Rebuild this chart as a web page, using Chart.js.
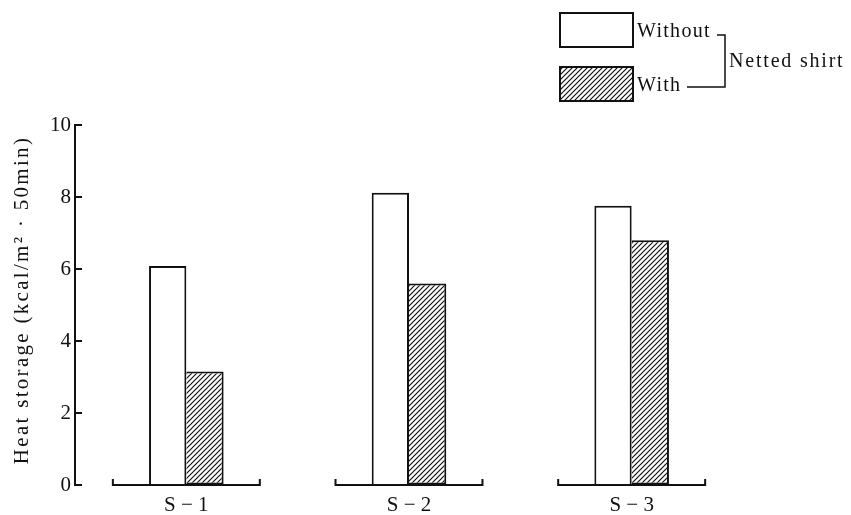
<!DOCTYPE html>
<html>
<head>
<meta charset="utf-8">
<script src="https://cdn.jsdelivr.net/npm/chart.js@4.4.0/dist/chart.umd.min.js"></script>
<style>
  html, body { margin: 0; padding: 0; background: #fff; }
  #wrap { width: 851px; height: 515px; position: relative; }
</style>
</head>
<body>
<div id="wrap"><canvas id="heatChart"></canvas></div>
<script>
const categories = ['S − 1', 'S − 2', 'S − 3'];
const withoutShirt = [6.08, 8.12, 7.76];
const withShirt = [3.15, 5.6, 6.8];
const yTickValues = [0, 2, 4, 6, 8, 10];
const yTitle = 'Heat storage (kcal/m² · 50min)';
const legendLabels = ['Without', 'With'];
const legendGroup = 'Netted shirt';

const ink = '#111';
const serif = "'Liberation Serif', 'DejaVu Serif', serif";

// diagonal hatch "////"
function hatch() {
  const c = document.createElement('canvas');
  c.width = 5; c.height = 5;
  const g = c.getContext('2d');
  g.fillStyle = '#fff';
  g.fillRect(0, 0, 5, 5);
  g.strokeStyle = ink;
  g.lineWidth = 1.2;
  g.beginPath();
  g.moveTo(-1, 6); g.lineTo(6, -1);
  g.moveTo(-1, 1); g.lineTo(1, -1);
  g.moveTo(4, 6); g.lineTo(6, 4);
  g.stroke();
  return g.createPattern(c, 'repeat');
}
const hatchFill = hatch();

// inward y ticks, per-group base lines, y title, legend with bracket
const decor = {
  id: 'decor',
  afterDatasetsDraw(chart) {
    const { ctx, scales: { x, y } } = chart;
    ctx.save();
    ctx.strokeStyle = ink;
    ctx.lineWidth = 2;

    yTickValues.forEach(v => {
      const py = y.getPixelForValue(v);
      ctx.beginPath();
      ctx.moveTo(x.left, py);
      ctx.lineTo(x.left + 7, py);
      ctx.stroke();
    });

    const half = x.width / categories.length * 0.33;
    const base = y.getPixelForValue(0);
    categories.forEach((c, i) => {
      const cx = x.getPixelForValue(i);
      ctx.beginPath();
      ctx.moveTo(cx - half, base - 6);
      ctx.lineTo(cx - half, base);
      ctx.lineTo(cx + half, base);
      ctx.lineTo(cx + half, base - 6);
      ctx.stroke();
    });

    // y title
    ctx.fillStyle = ink;
    ctx.font = '21px ' + serif;
    ctx.textAlign = 'center';
    ctx.textBaseline = 'middle';
    ctx.translate(22, (y.top + y.bottom) / 2 - 5);
    ctx.rotate(-Math.PI / 2);
    ctx.letterSpacing = '2.3px';
    ctx.fillText(yTitle, 0, 0);
    ctx.restore();

    // legend
    ctx.save();
    ctx.strokeStyle = ink;
    ctx.fillStyle = ink;
    ctx.lineWidth = 2;
    const ds = chart.data.datasets;
    const boxes = [[560, 13], [560, 67]];
    boxes.forEach(([bx, by], i) => {
      ctx.fillStyle = ds[i].backgroundColor;
      ctx.fillRect(bx, by, 73, 34);
      ctx.strokeRect(bx, by, 73, 34);
    });
    ctx.fillStyle = ink;
    ctx.font = '20px ' + serif;
    ctx.textBaseline = 'middle';
    ctx.letterSpacing = '1.3px';
    ctx.fillText(legendLabels[0], 637, 32);
    ctx.fillText(legendLabels[1], 637, 86);
    ctx.letterSpacing = '1.8px';
    ctx.fillText(legendGroup, 729, 62);
    ctx.lineWidth = 1.5;
    ctx.beginPath();
    ctx.moveTo(717, 35); ctx.lineTo(725, 35); ctx.lineTo(725, 87); ctx.lineTo(687, 87);
    ctx.stroke();
    ctx.restore();
  }
};

new Chart(document.getElementById('heatChart'), {
  type: 'bar',
  data: {
    labels: categories,
    datasets: [
      {
        label: legendLabels[0],
        data: withoutShirt,
        backgroundColor: '#fff',
        borderColor: ink,
        borderWidth: 2,
        borderSkipped: 'bottom'
      },
      {
        label: legendLabels[1],
        data: withShirt,
        backgroundColor: hatchFill,
        borderColor: ink,
        borderWidth: 2,
        borderSkipped: 'left'
      }
    ]
  },
  options: {
    responsive: true,
    maintainAspectRatio: false,
    animation: false,
    layout: { padding: { top: 125, right: 108, left: 0, bottom: 0 } },
    datasets: { bar: { barPercentage: 1, categoryPercentage: 0.335 } },
    plugins: {
      legend: { display: false },
      tooltip: { enabled: false }
    },
    scales: {
      x: {
        grid: { display: false, drawTicks: false },
        border: { display: false },
        ticks: { color: ink, font: { family: serif, size: 21 }, padding: 8 },
        afterFit: s => { s.height = 30; }
      },
      y: {
        min: 0,
        max: 10,
        afterBuildTicks: s => { s.ticks = yTickValues.map(v => ({ value: v })); },
        grid: { display: true, drawOnChartArea: false, drawTicks: false, color: 'transparent' },
        border: { display: true, color: ink, width: 2 },
        ticks: { color: ink, font: { family: serif, size: 21 }, padding: 4 },
        afterFit: s => { s.width = 75; }
      }
    }
  },
  plugins: [decor]
});
</script>
</body>
</html>
